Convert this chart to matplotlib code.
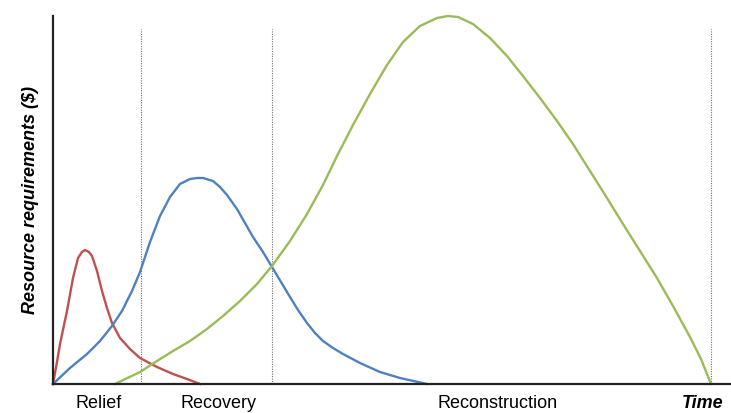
import matplotlib
matplotlib.use('Agg')
import matplotlib.pyplot as plt

# time units along x, resource requirement along y
relief_x = [0, 4, 7, 14, 20, 25, 29, 32, 36, 39, 44, 49, 54, 59, 67, 77, 87, 104, 120, 134, 147]
relief_y = [0, 22, 40, 73, 106, 126, 132, 134, 132, 128, 113, 93, 76, 61, 46, 35, 26, 17, 10, 5, 0]

recovery_x = [0, 17, 34, 47, 59, 69, 79, 87, 97, 107, 117, 127, 137, 144, 150, 160, 167, 174,
              184, 192, 200, 210, 219, 228, 237, 245, 254, 262, 270, 280, 290, 307, 327, 347, 374]
recovery_y = [0, 16, 30, 43, 58, 73, 93, 112, 142, 168, 187, 200, 205, 206, 206, 203, 197, 189,
              175, 161, 147, 132, 117, 102, 87, 74, 61, 51, 43, 36, 30, 21, 12, 6, 0]

recon_x = [62, 87, 104, 120, 137, 154, 170, 187, 204, 219, 237, 254, 270, 284, 300, 317, 334, 350,
           367, 384, 395, 405, 420, 437, 454, 470, 487, 504, 520, 537, 554, 570, 587, 604, 620,
           637, 648, 658]
recon_y = [0, 12, 23, 33, 43, 55, 68, 83, 100, 118, 143, 170, 199, 228, 259, 290, 319, 342,
           358, 366, 368, 367, 360, 346, 328, 308, 286, 263, 240, 213, 186, 160, 133, 106, 78,
           47, 25, 0]

phase_ends = [88, 219, 658]
phase_labels = ['Relief', 'Recovery', 'Reconstruction', 'Time']
label_pos = [46, 165, 445, 650]

plt.rcParams['font.family'] = ['Liberation Sans', 'DejaVu Sans']

fig = plt.figure(figsize=(7.31, 4.13), dpi=100)
ax = fig.add_axes([53/731, 29/413, 678/731, 368/413])

for xe in phase_ends:
    ax.plot([xe, xe], [0, 355], color='#707070', lw=0.8, ls=(0, (1, 1.2)))

ax.plot(relief_x, relief_y, color='#c0504d', lw=1.7, solid_joinstyle='round', clip_on=False)
ax.plot(recovery_x, recovery_y, color='#4f81bd', lw=1.7, solid_joinstyle='round', clip_on=False)
ax.plot(recon_x, recon_y, color='#9bbb59', lw=1.7, solid_joinstyle='round', clip_on=False)

ax.set_xlim(0, 678)
ax.set_ylim(0, 368)
for s in ['top', 'right']:
    ax.spines[s].set_visible(False)
ax.spines['left'].set_linewidth(1.6)
ax.spines['bottom'].set_linewidth(1.6)
ax.spines['left'].set_color('#222222')
ax.spines['bottom'].set_color('#222222')

ax.set_yticks([])
ax.set_xticks(label_pos)
ax.set_xticklabels(phase_labels, fontsize=13)
ax.tick_params(axis='x', length=0, pad=8)
tl = ax.get_xticklabels()[-1]
tl.set_fontweight('bold')
tl.set_fontstyle('italic')

ax.set_ylabel('Resource requirements ($)', fontsize=13, fontweight='bold',
              fontstyle='italic', labelpad=10)

fig.savefig('out.png', dpi=100)
